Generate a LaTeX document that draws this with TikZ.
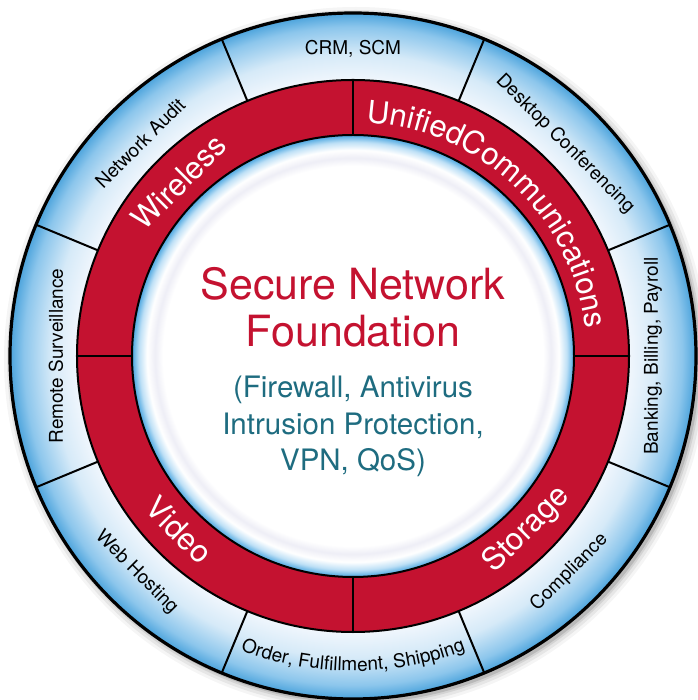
\documentclass[tikz,border=0pt]{standalone}
\usepackage{fontspec}
\setmainfont{TeX Gyre Heros}
\usetikzlibrary{decorations.text}
\definecolor{cred}{RGB}{196,18,48}
\definecolor{cteal}{RGB}{30,108,128}
\definecolor{ob0}{RGB}{242,247,253}
\definecolor{ob1}{RGB}{214,234,248}
\definecolor{ob2}{RGB}{140,198,236}
\definecolor{ob3}{RGB}{75,163,220}
\definecolor{ib1}{RGB}{238,238,246}
\definecolor{ib2}{RGB}{190,224,246}
\definecolor{ib3}{RGB}{74,166,224}
\pgfdeclareradialshading{outerring}{\pgfpoint{0bp}{0bp}}{color(0bp)=(ob0); color(20bp)=(ob0); color(22bp)=(ob1); color(24bp)=(ob2); color(25bp)=(ob3); color(50bp)=(ob3)}
\pgfdeclareradialshading{innerdisc}{\pgfpoint{0bp}{0bp}}{color(0bp)=(white); color(21.5bp)=(white); color(22.4bp)=(ib1); color(23.3bp)=(white); color(24.2bp)=(ib2); color(25bp)=(ib3); color(50bp)=(ib3)}
\newcommand\lblfont{\fontsize{19}{21}\selectfont}
\newcommand\ringfont{\fontsize{31}{33}\selectfont}
\tikzset{
  olabel/.style={font=\lblfont, text=black, inner sep=0pt},
  rlabel/.style={font=\ringfont, text=white, inner sep=0pt},
  titletext/.style={font=\fontsize{43}{47}\selectfont, text=cred, anchor=base, inner sep=0pt},
  subtext/.style={font=\fontsize{29.5}{33}\selectfont, text=cteal, anchor=base, inner sep=0pt},
  thickline/.style={line width=3.2pt, black},
  midline/.style={line width=2pt, black}
}
\begin{document}
\begin{tikzpicture}
\useasboundingbox (-353pt,-344pt) rectangle (344pt,356pt);
\fill[white] (-353pt,-344pt) rectangle (344pt,356pt);
% shadow
\foreach \r/\o in {352/0.04,349/0.06,346/0.08,344/0.12}
  \fill[black,opacity=\o] (3pt,-3pt) circle (\r pt);
% outer ring
\shade[shading=outerring] (0,0) circle (343pt);
% red ring
\fill[cred, even odd rule] (0,0) circle (276pt) (0,0) circle (221pt);
% inner disc
\shade[shading=innerdisc] (0,0) circle (221pt);
% lines
\foreach \a in {22.5,67.5,...,337.5}
  \draw[midline] (\a:276pt) -- (\a:343pt);
\foreach \a in {0,90,180,270}
  \draw[midline] (\a:221pt) -- (\a:276pt);
\draw[midline] (0,0) circle (276pt);
\draw[midline] (0,0) circle (221pt);
\draw[thickline] (0,0) circle (343pt);
% outer labels
\node[olabel] (crm) at (90:307pt) {CRM, SCM};
\node[olabel, rotate=-45] (desk) at (45:300pt) {Desktop Conferencing};
\node[olabel, rotate=90] (bank) at (0:300pt) {Banking, Billing, Payroll};
\node[olabel, rotate=45] (comp) at (-45:306pt) {Compliance};
\node[olabel, rotate=-45] (web) at (-135:306pt) {Web Hosting};
\node[olabel, rotate=90] (rem) at (180:297pt) {Remote Surveillance};
\node[olabel, rotate=45] (net) at (135:301pt) {Network Audit};
\path[decorate, decoration={text along path, text={|\lblfont|Order, Fulfillment, Shipping}, text align=center, text color=black}]
  (-130:315pt) arc[start angle=-130, end angle=-50, radius=315pt];
% red ring labels
\node[rlabel, rotate=45] (wl) at (135:246pt) {Wireless};
\node[rlabel, rotate=-45] (vid) at (-135:246pt) {Video};
\node[rlabel, rotate=45] (sto) at (-45:246pt) {Storage};
\path[decorate, decoration={text along path, text={|\ringfont|UnifiedCommunications}, text align=center, text color=white}]
  (89.7:234pt) arc[start angle=89.7, end angle=3.7, radius=234pt];
% center text
\node[titletext] (t1) at (0,56pt) {Secure Network};
\node[titletext] (t2) at (0,9pt) {Foundation};
\node[subtext] (t3) at (0,-42pt) {(Firewall, Antivirus};
\node[subtext] (t4) at (0,-79pt) {Intrusion Protection,};
\node[subtext] (t5) at (0,-114pt) {VPN, QoS)};
\end{tikzpicture}
\end{document}
